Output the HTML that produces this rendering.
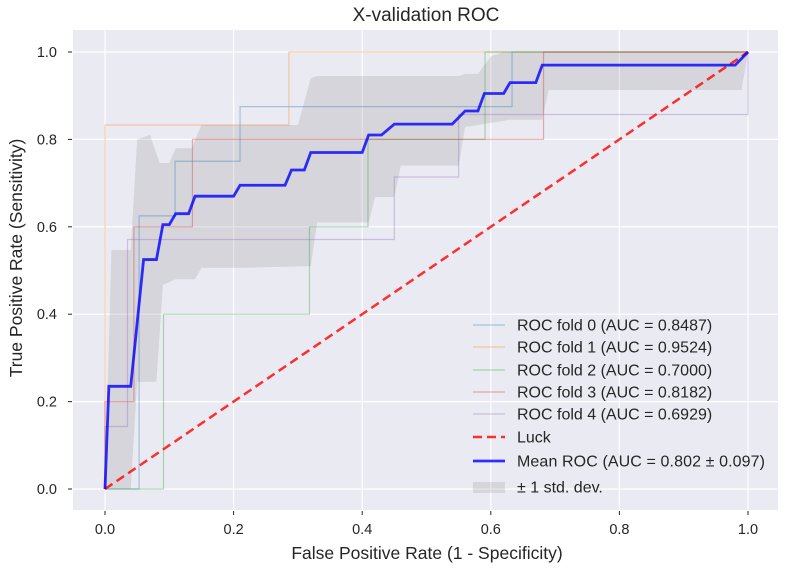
<!DOCTYPE html>
<html><head><meta charset="utf-8"><style>
body{margin:0;background:#fff;font-family:"Liberation Sans",sans-serif;}
svg text{font-family:"Liberation Sans",sans-serif;fill:#262626;}
</style></head><body>
<svg id="c" width="785" height="572" xmlns="http://www.w3.org/2000/svg">
<rect x="73" y="30" width="705" height="480" fill="#eaeaf2"/>
<g id="grid"></g><g id="band"></g><g id="folds"></g><g id="main"></g><g id="axes"></g><g id="legend"></g>
<text x="426" y="21" text-anchor="middle" font-size="19">X-validation ROC</text>
<text x="427" y="559" text-anchor="middle" font-size="17.5">False Positive Rate (1 - Specificity)</text>
<text x="22" y="258" text-anchor="middle" font-size="17.5" transform="rotate(-90 22 258)">True Positive Rate (Sensitivity)</text>
</svg>
<script>
const ticks=[0,0.2,0.4,0.6,0.8,1.0];
const tickLabels=["0.0","0.2","0.4","0.6","0.8","1.0"];
const foldNames=["ROC fold 0 (AUC = 0.8487)","ROC fold 1 (AUC = 0.9524)","ROC fold 2 (AUC = 0.7000)","ROC fold 3 (AUC = 0.8182)","ROC fold 4 (AUC = 0.6929)"];
const foldColors=["#1f77b4","#ff7f0e","#2ca02c","#d62728","#9467bd"];
const fold0X=[0,0.053,0.053,0.109,0.109,0.21,0.21,0.633,0.633,1];
const fold0Y=[0,0,0.625,0.625,0.75,0.75,0.875,0.875,1,1];
const fold1X=[0,0,0.286,0.286,1];
const fold1Y=[0,0.833,0.833,1,1];
const fold2X=[0,0.091,0.091,0.318,0.318,0.409,0.409,0.591,0.591,1];
const fold2Y=[0,0,0.4,0.4,0.6,0.6,0.8,0.8,1,1];
const fold3X=[0,0,0.045,0.045,0.136,0.136,0.682,0.682,1];
const fold3Y=[0,0.2,0.2,0.6,0.6,0.8,0.8,1,1];
const fold4X=[0,0,0.035,0.035,0.45,0.45,0.55,0.55,1,1];
const fold4Y=[0,0.143,0.143,0.571,0.571,0.714,0.714,0.857,0.857,1];
const meanX=[0,0.006,0.04,0.06,0.08,0.09,0.1,0.11,0.13,0.14,0.2,0.21,0.28,0.29,0.31,0.32,0.4,0.41,0.43,0.45,0.54,0.56,0.58,0.59,0.62,0.63,0.67,0.68,0.98,1];
const meanY=[0,0.235,0.235,0.525,0.525,0.605,0.605,0.63,0.63,0.67,0.67,0.695,0.695,0.73,0.73,0.77,0.77,0.81,0.81,0.835,0.835,0.865,0.865,0.905,0.905,0.93,0.93,0.97,0.97,1];
const upperX=[0,0.01,0.04,0.05,0.07,0.085,0.1,0.11,0.135,0.15,0.3,0.32,0.33,0.55,0.56,0.58,0.6,0.62,1];
const upperY=[0,0.547,0.547,0.8,0.81,0.746,0.746,0.78,0.78,0.833,0.833,0.94,0.945,0.945,0.95,0.95,0.99,1,1];
const lowerX=[0,0.04,0.05,0.08,0.09,0.11,0.14,0.15,0.21,0.32,0.33,0.41,0.42,0.45,0.46,0.55,0.56,0.63,0.68,0.69,0.99,1];
const lowerY=[0,0,0.245,0.245,0.467,0.48,0.48,0.506,0.506,0.51,0.61,0.61,0.668,0.668,0.74,0.74,0.828,0.845,0.845,0.913,0.913,1];
const NS="http://www.w3.org/2000/svg";
const sx=v=>105+643*v, sy=v=>489-437*v;
function mk(p,t,a){const e=document.createElementNS(NS,t);for(const k in a)e.setAttribute(k,a[k]);document.getElementById(p).appendChild(e);return e;}
const pts=(X,Y)=>X.map((x,i)=>sx(x)+","+sy(Y[i])).join(" ");
ticks.forEach((t,i)=>{
 let g=mk("grid","line",{x1:sx(t),x2:sx(t),y1:30,y2:510,stroke:"#fff","stroke-width":1.2});
 
 
 g=mk("grid","line",{x1:73,x2:778,y1:sy(t),y2:sy(t),stroke:"#fff","stroke-width":1.2});
 
 
 let e=mk("axes","line",{x1:sx(t),x2:sx(t),y1:511,y2:515,stroke:"#262626"});
 
 
 e=mk("axes","text",{x:sx(t),y:534,"text-anchor":"middle","font-size":14.5});e.textContent=tickLabels[i];
 
 
 e=mk("axes","line",{x1:68,x2:72,y1:sy(t),y2:sy(t),stroke:"#262626"});
 
 
 e=mk("axes","text",{x:57,y:sy(t)+5,"text-anchor":"end","font-size":14.5});e.textContent=tickLabels[i];
 
 
});
const bp=pts(upperX,upperY)+" "+pts(lowerX.slice().reverse(),lowerY.slice().reverse());
let b=mk("band","polygon",{points:bp,fill:"#808080","fill-opacity":0.2});


const FX=[fold0X,fold1X,fold2X,fold3X,fold4X],FY=[fold0Y,fold1Y,fold2Y,fold3Y,fold4Y];
FX.forEach((X,i)=>{const l=mk("folds","polyline",{points:pts(X,FY[i]),fill:"none",stroke:foldColors[i],"stroke-opacity":0.35,"stroke-width":1.2});
 
 });
let l=mk("main","line",{x1:sx(0),y1:sy(0),x2:sx(1),y2:sy(1),stroke:"#ff0000","stroke-opacity":0.8,"stroke-width":2.5,"stroke-dasharray":"9,5"});


l=mk("main","polyline",{points:pts(meanX,meanY),fill:"none",stroke:"#0000ff","stroke-opacity":0.8,"stroke-width":2.8});


const legY=[325,347,370,392,414,437,461,487];
const legText=foldNames.concat(["Luck","Mean ROC (AUC = 0.802 \u00b1 0.097)","\u00b1 1 std. dev."]);
legText.forEach((t,i)=>{const y=legY[i];let s;
 if(i<5)s=mk("legend","line",{x1:473,x2:505,y1:y,y2:y,stroke:foldColors[i],"stroke-opacity":0.35,"stroke-width":1.2});
 else if(i==5)s=mk("legend","line",{x1:473,x2:505,y1:y,y2:y,stroke:"#ff0000","stroke-opacity":0.8,"stroke-width":2.5,"stroke-dasharray":"9,5"});
 else if(i==6)s=mk("legend","line",{x1:473,x2:505,y1:y,y2:y,stroke:"#0000ff","stroke-opacity":0.8,"stroke-width":2.8});
 else s=mk("legend","rect",{x:473,y:y-5,width:32,height:11,fill:"#808080","fill-opacity":0.2});
 
 
 const e=mk("legend","text",{x:517,y:y+5.5,"font-size":16,textLength:(i==6?248:null)});
 if(i!=6)e.removeAttribute("textLength");
 e.textContent=t;
 
 
});
</script>
</body></html>
